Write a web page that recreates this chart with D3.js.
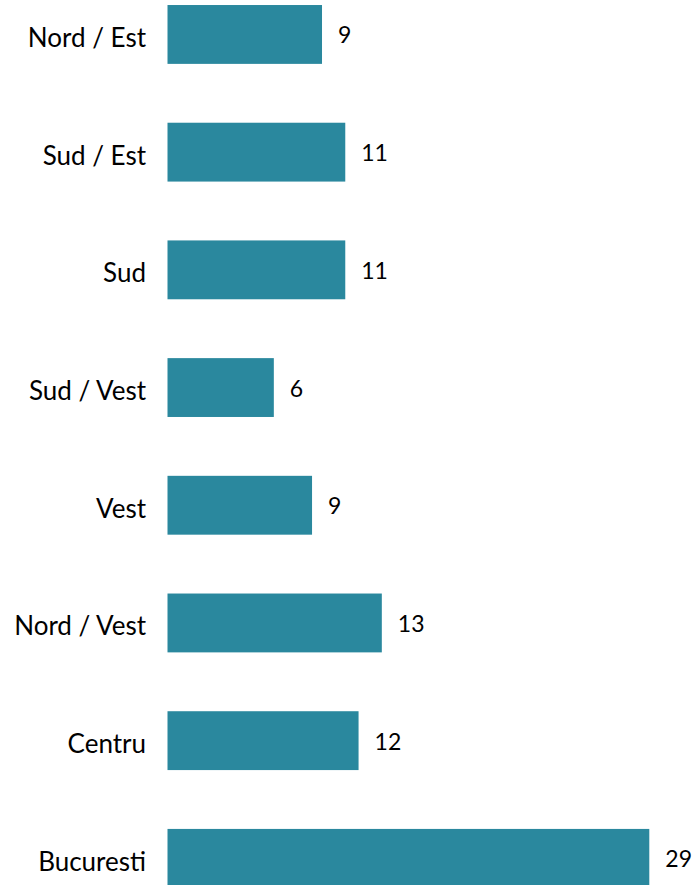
<!DOCTYPE html>
<html>
<head>
<meta charset="utf-8">
<script src="https://cdn.jsdelivr.net/npm/d3@7"></script>
<style>
  html, body { margin: 0; padding: 0; background: #fff; }
  svg { display: block; }
</style>
</head>
<body>
<svg id="chart" width="697" height="885"></svg>
<script>
'use strict';

// Data (bar lengths suggest unrounded values)
var regions = ['Nord / Est', 'Sud / Est', 'Sud', 'Sud / Vest', 'Vest', 'Nord / Vest', 'Centru', 'Bucuresti'];
var shares = [9.3, 10.7, 10.7, 6.4, 8.7, 12.9, 11.5, 29.0];

// Layout
var W = 697,
    H = 885,
    barLeft = 167.5,
    barColor = '#2a889e',
    font = 'Lato, "Open Sans", sans-serif';

var svg = d3.select('#chart');

var x = d3.scaleLinear()
    .domain([0, 29])
    .range([barLeft, barLeft + 481.8]);

var y = d3.scaleBand()
    .domain(regions)
    .range([-24.4, 917.2])
    .paddingInner(0.5)
    .paddingOuter(0.25);

var data = regions.map(function (r, i) { return { region: r, value: shares[i] }; });
var fmt = d3.format('.0f');

var rows = svg.selectAll('g.row')
    .data(data)
    .enter().append('g')
    .attr('class', 'row')
    .attr('transform', function (d) { return 'translate(0,' + y(d.region) + ')'; });

rows.append('rect')
    .attr('x', x(0))
    .attr('y', 0)
    .attr('width', function (d) { return x(d.value) - x(0); })
    .attr('height', y.bandwidth())
    .attr('fill', barColor);

// Category labels
rows.append('text')
    .attr('x', barLeft - 21.5)
    .attr('y', y.bandwidth() / 2 + 12.5)
    .attr('text-anchor', 'end')
    .attr('font-family', font)
    .attr('font-size', 26)
    .attr('fill', '#000')
    .text(function (d) { return d.region; });

// Value labels
rows.append('text')
    .attr('x', function (d) { return x(d.value) + 16; })
    .attr('y', y.bandwidth() / 2 + 9)
    .attr('font-family', font)
    .attr('font-size', 23)
    .attr('fill', '#000')
    .text(function (d) { return fmt(d.value); });
</script>
</body>
</html>
